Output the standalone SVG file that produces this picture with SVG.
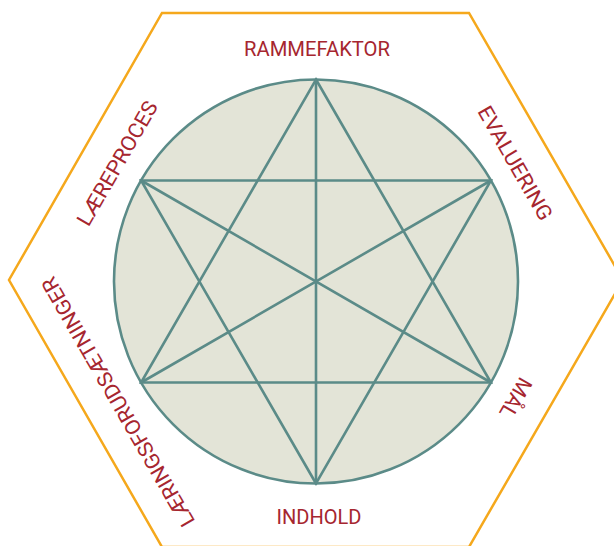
<svg xmlns="http://www.w3.org/2000/svg" width="614" height="546" viewBox="0 0 614 546">
  <style>
    .hex { fill: none; stroke: #f5a81c; stroke-width: 2.5; stroke-linejoin: miter; }
    .circ { fill: #e3e4d7; stroke: #5b8b88; stroke-width: 2.6; }
    .ln { stroke: #5b8b88; stroke-width: 2.6; stroke-linecap: round; fill: none; }
    .lbl { fill: #a6262f; font-family: Roboto, "Liberation Sans", sans-serif; font-size: 21px; font-weight: 400; text-anchor: middle; }
  </style>
  <rect width="614" height="546" fill="#ffffff"/>
  <g id="hexagon">
    <polygon class="hex" points="162,13 469,13 623,280 469,547 162,547 9,280"/>
  </g>
  <g id="circle">
    <circle class="circ" cx="316" cy="281.5" r="202"/>
  </g>
  <g id="connectors">
    <line class="ln" x1="316" y1="79.5" x2="316" y2="483.5"/>
    <line class="ln" x1="141.1" y1="180.5" x2="490.9" y2="382.5"/>
    <line class="ln" x1="490.9" y1="180.5" x2="141.1" y2="382.5"/>
    <polygon class="ln" points="316,79.5 490.9,382.5 141.1,382.5"/>
    <polygon class="ln" points="316,483.5 141.1,180.5 490.9,180.5"/>
  </g>
  <g id="rammefaktor">
    <text class="lbl" x="317" y="55.5" textLength="146" lengthAdjust="spacingAndGlyphs">RAMMEFAKTOR</text>
  </g>
  <g id="indhold">
    <text class="lbl" x="319" y="523.5" textLength="85" lengthAdjust="spacingAndGlyphs">INDHOLD</text>
  </g>
  <g id="laereproces">
    <text class="lbl" transform="translate(123.6,166.8) rotate(-60)" x="0" y="0" textLength="140" lengthAdjust="spacingAndGlyphs">LÆREPROCES</text>
  </g>
  <g id="evaluering">
    <text class="lbl" transform="translate(508.9,166.8) rotate(60)" x="0" y="0" textLength="128" lengthAdjust="spacingAndGlyphs">EVALUERING</text>
  </g>
  <g id="maal">
    <text class="lbl" transform="translate(509.4,394.3) rotate(120)" x="0" y="0" textLength="43" lengthAdjust="spacingAndGlyphs">MÅL</text>
  </g>
  <g id="laeringsforudsaetninger">
    <text class="lbl" transform="translate(124.4,398.2) rotate(-120)" x="0" y="0" textLength="284" lengthAdjust="spacingAndGlyphs">LÆRINGSFORUDSÆTNINGER</text>
  </g>
</svg>
